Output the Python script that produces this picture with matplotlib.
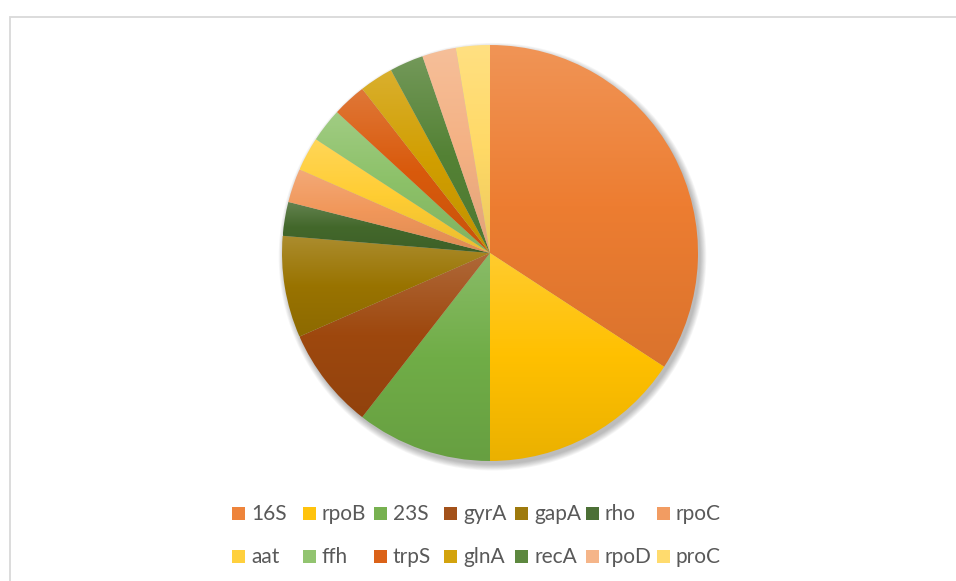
import numpy as np
import matplotlib.pyplot as plt
import matplotlib.colors as mcolors
from matplotlib.patches import Rectangle, Circle

genes = ['16S', 'rpoB', '23S', 'gyrA', 'gapA', 'rho', 'rpoC',
         'aat', 'ffh', 'trpS', 'glnA', 'recA', 'rpoD', 'proC']
counts = [13, 6, 4, 3, 3, 1, 1, 1, 1, 1, 1, 1, 1, 1]
colors = ['#ED7D31', '#FFC000', '#70AD47', '#9E480E', '#997300', '#43682B', '#F1975A',
          '#FFCD33', '#8CC168', '#D95A0C', '#D19E00', '#548235', '#F4B183', '#FFD966']

W, H = 956, 581
fig = plt.figure(figsize=(W / 100, H / 100), dpi=100)
fig.patch.set_facecolor('white')

# chart area border (cut off at right / bottom like the screenshot)
fig.patches.append(Rectangle((10 / W, -0.1), 1.2, 1 - 16.5 / H + 0.1,
                             transform=fig.transFigure, fill=False,
                             ec='#D9D9D9', lw=1.3))

cx, cy, r = 490, 253, 208
pad = 1.1
ax = fig.add_axes([(cx - r * pad) / W, (H - cy - r * pad) / H, 2 * r * pad / W, 2 * r * pad / H])
ax.axis('off')

# soft shadow
for k in range(8):
    ax.add_patch(Circle((0.012, -0.018), 1.0 + 0.004 * k, color='black',
                        alpha=0.035, lw=0, zorder=0))

wedges, _ = ax.pie(counts, colors=colors, startangle=90, counterclock=False,
                   radius=1, wedgeprops=dict(linewidth=0))


def mix(c, other, t):
    c = np.array(mcolors.to_rgb(c))
    return tuple(c * (1 - t) + np.array(other) * t)


for w, col in zip(wedges, colors):
    w.set_facecolor('none')
    path = w.get_path().transformed(w.get_patch_transform())
    (x0, y0), (x1, y1) = path.get_extents().get_points()
    top = mix(col, (1, 1, 1), 0.18)
    bot = mix(col, (0, 0, 0), 0.08)
    cmap = mcolors.LinearSegmentedColormap.from_list('g', [bot, col, top])
    grad = np.linspace(0, 1, 256).reshape(-1, 1)
    im = ax.imshow(grad, cmap=cmap, origin='lower', aspect='auto',
                   extent=[x0, x1, y0, y1], zorder=1, interpolation='bilinear')
    im.set_clip_path(w)

ax.set_xlim(-pad, pad)
ax.set_ylim(-pad, pad)

# legend, Excel style (7 equal columns, 2 rows)
for i, (g, col) in enumerate(zip(genes, colors)):
    row, c = divmod(i, 7)
    x = 232 + 70.8 * c
    y = 513.5 + 42.5 * row
    fig.patches.append(Rectangle((x / W, 1 - (y + 6.5) / H), 13 / W, 13 / H,
                                 transform=fig.transFigure,
                                 fc=mix(col, (1, 1, 1), 0.05), ec='none'))
    fig.text((x + 19) / W, 1 - (y + 1) / H, g, fontsize=15, color='#595959',
             family='Lato', va='center', ha='left')

fig.savefig('out.png', dpi=100)
